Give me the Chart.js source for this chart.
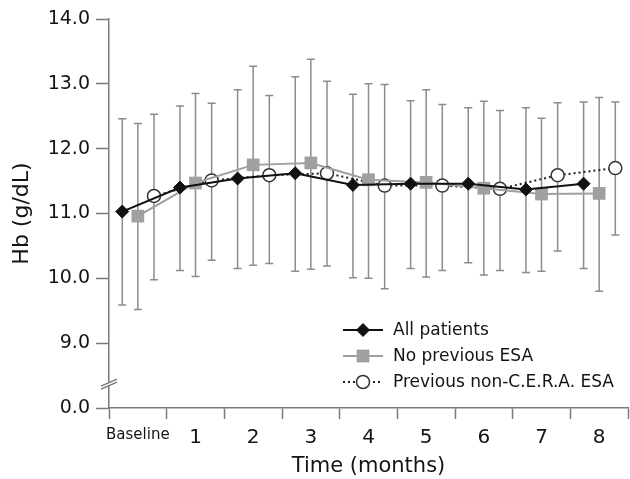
<!DOCTYPE html>
<html>
<head>
<meta charset="utf-8">
<title>Hb over time</title>
<script src="https://cdn.jsdelivr.net/npm/chart.js@4/dist/chart.umd.min.js"></script>
<style>
    html, body { margin: 0; padding: 0; background: #fff; }
    #wrap { width: 630px; height: 479px; }
</style>
</head>
<body>
<div id="wrap"><canvas id="hbChart"></canvas></div>
<script>
// Time points on the x axis
const categories = ["Baseline", "1", "2", "3", "4", "5", "6", "7", "8"];

// y ticks; the bottom one (8) stands in for 0.0 below the axis break
const yTickValues = [8, 9, 10, 11, 12, 13, 14];
const yTickLabels = ["0.0", "9.0", "10.0", "11.0", "12.0", "13.0", "14.0"];

// All patients (mean, upper and lower end of bar)
const allMean  = [11.03, 11.40, 11.54, 11.62, 11.44, 11.46, 11.46, 11.37, 11.46];
const allUpper = [12.46, 12.66, 12.91, 13.11, 12.84, 12.74, 12.63, 12.63, 12.72];
const allLower = [9.59, 10.12, 10.15, 10.11, 10.01, 10.15, 10.24, 10.09, 10.15];

// No previous ESA
const noEsaMean  = [10.96, 11.47, 11.75, 11.78, 11.52, 11.48, 11.39, 11.30, 11.31];
const noEsaUpper = [12.39, 12.85, 13.27, 13.38, 13.00, 12.91, 12.73, 12.47, 12.79];
const noEsaLower = [9.52, 10.03, 10.20, 10.14, 10.00, 10.02, 10.05, 10.11, 9.80];

// Previous non-C.E.R.A. ESA
const prevMean  = [11.27, 11.51, 11.59, 11.62, 11.43, 11.43, 11.38, 11.59, 11.70];
const prevUpper = [12.53, 12.70, 12.82, 13.04, 12.99, 12.68, 12.59, 12.71, 12.72];
const prevLower = [9.98, 10.28, 10.23, 10.19, 9.84, 10.12, 10.12, 10.42, 10.67];

const FONT = "'DejaVu Sans', 'Liberation Sans', sans-serif";
const TEXT = "#141414";
const AXIS = "#7a7a7a";
const BAR = "#8c8c8c";

function toPoints(values, shift) {
    return values.map((v, i) => ({ x: i + shift, y: v }));
}

const series = [
    {
        label: "All patients",
        data: toPoints(allMean, -0.27),
        upper: allUpper, lower: allLower, shift: -0.27,
        borderColor: "#111", backgroundColor: "#111",
        borderWidth: 2, borderDash: [],
        pointStyle: "rectRot", pointRadius: 6.5,
        pointBackgroundColor: "#111", pointBorderColor: "#111", pointBorderWidth: 1
    },
    {
        label: "No previous ESA",
        data: toPoints(noEsaMean, 0),
        upper: noEsaUpper, lower: noEsaLower, shift: 0,
        borderColor: "#a0a0a0", backgroundColor: "#a0a0a0",
        borderWidth: 2, borderDash: [],
        pointStyle: "rect", pointRadius: 9,
        pointBackgroundColor: "#a0a0a0", pointBorderColor: "#a0a0a0", pointBorderWidth: 0
    },
    {
        label: "Previous non-C.E.R.A. ESA",
        data: toPoints(prevMean, 0.28),
        upper: prevUpper, lower: prevLower, shift: 0.28,
        borderColor: "#222", backgroundColor: "#fff",
        borderWidth: 2, borderDash: [2, 3],
        pointStyle: "circle", pointRadius: 6.5,
        pointBackgroundColor: "#fff", pointBorderColor: "#333", pointBorderWidth: 1.5
    }
];

// error bars go under the lines and markers
const errorBars = {
    id: "errorBars",
    beforeDatasetsDraw(chart) {
        const ctx = chart.ctx;
        const xs = chart.scales.x, ys = chart.scales.y;
        ctx.save();
        ctx.strokeStyle = BAR;
        ctx.lineWidth = 1.5;
        series.forEach(s => {
            s.upper.forEach((hi, i) => {
                const px = xs.getPixelForValue(i + s.shift);
                const top = ys.getPixelForValue(hi);
                const bot = ys.getPixelForValue(s.lower[i]);
                ctx.beginPath();
                ctx.moveTo(px, top);
                ctx.lineTo(px, bot);
                ctx.moveTo(px - 4, top);
                ctx.lineTo(px + 4, top);
                ctx.moveTo(px - 4, bot);
                ctx.lineTo(px + 4, bot);
                ctx.stroke();
            });
        });
        ctx.restore();
    }
};

// the // mark on the y axis between 0.0 and 9.0
const axisBreak = {
    id: "axisBreak",
    afterDraw(chart) {
        const ctx = chart.ctx;
        const x = chart.scales.x.getPixelForValue(-0.5);
        const y = chart.scales.y.getPixelForValue(8.36);
        ctx.save();
        ctx.fillStyle = "#fff";
        ctx.beginPath();
        ctx.moveTo(x - 8, y + 4.5);
        ctx.lineTo(x + 8, y - 2.5);
        ctx.lineTo(x + 8, y - 5.5);
        ctx.lineTo(x - 8, y + 1.5);
        ctx.closePath();
        ctx.fill();
        ctx.strokeStyle = AXIS;
        ctx.lineWidth = 1.5;
        ctx.beginPath();
        ctx.moveTo(x - 8, y + 4.5);
        ctx.lineTo(x + 8, y - 2.5);
        ctx.moveTo(x - 8, y + 1.5);
        ctx.lineTo(x + 8, y - 5.5);
        ctx.stroke();
        ctx.restore();
    }
};

// legend box inside the plot, lower right: line sample with marker, then text
const insideLegend = {
    id: "insideLegend",
    afterDraw(chart) {
        const ctx = chart.ctx;
        const area = chart.chartArea;
        const x0 = area.right - 285;
        ctx.save();
        chart.data.datasets.forEach((ds, i) => {
            const y = area.bottom - 78 + i * 26;
            ctx.strokeStyle = ds.borderColor;
            ctx.lineWidth = ds.borderWidth;
            ctx.setLineDash(ds.borderDash);
            ctx.beginPath();
            ctx.moveTo(x0, y);
            ctx.lineTo(x0 + 40, y);
            ctx.stroke();
            ctx.setLineDash([]);
            ctx.fillStyle = ds.pointBackgroundColor;
            ctx.strokeStyle = ds.pointBorderColor;
            ctx.lineWidth = ds.pointBorderWidth;
            Chart.helpers.drawPoint(ctx, {
                pointStyle: ds.pointStyle,
                radius: ds.pointRadius,
                rotation: 0,
                borderWidth: ds.pointBorderWidth
            }, x0 + 20, y);
            ctx.fillStyle = TEXT;
            ctx.font = "17px " + FONT;
            ctx.textBaseline = "middle";
            ctx.textAlign = "left";
            ctx.fillText(ds.label, x0 + 50, y + 1);
        });
        ctx.restore();
    }
};

const ctx = document.getElementById("hbChart").getContext("2d");
new Chart(ctx, {
    type: "line",
    data: { datasets: series },
    plugins: [errorBars, axisBreak, insideLegend],
    options: {
        responsive: true,
        maintainAspectRatio: false,
        animation: false,
        events: [],
        layout: {
            autoPadding: false,
            padding: { top: 19, right: 2, left: 0, bottom: 0 }
        },
        plugins: {
            legend: { display: false },
            tooltip: { enabled: false }
        },
        scales: {
            x: {
                type: "linear",
                min: -0.5,
                max: 8.5,
                afterFit(scale) {
                    scale.height = 71;
                    scale.paddingLeft = 0;
                    scale.paddingRight = 0;
                },
                border: { color: AXIS, width: 1.5 },
                grid: {
                    drawOnChartArea: false,
                    drawTicks: true,
                    tickLength: 11,
                    tickWidth: 1.5,
                    tickColor: c => (c.tick && Number.isInteger(c.tick.value)) ? "rgba(0,0,0,0)" : AXIS
                },
                ticks: {
                    stepSize: 0.5,
                    autoSkip: false,
                    maxRotation: 0,
                    padding: 7,
                    color: TEXT,
                    font: c => ({ family: FONT, size: (c.tick && c.tick.value === 0) ? 15 : 20 }),
                    callback: v => Number.isInteger(v) ? categories[v] : ""
                },
                title: {
                    display: true,
                    text: "Time (months)",
                    color: TEXT,
                    font: { family: FONT, size: 21 },
                    padding: { top: 0, bottom: 0 }
                }
            },
            y: {
                type: "linear",
                min: 8,
                max: 14,
                afterFit(scale) { scale.width = 109; },
                afterBuildTicks(scale) { scale.ticks = yTickValues.map(v => ({ value: v })); },
                border: { color: AXIS, width: 1.5 },
                grid: {
                    drawOnChartArea: false,
                    drawTicks: true,
                    tickLength: 13,
                    tickWidth: 1.5,
                    tickColor: AXIS
                },
                ticks: {
                    padding: 6,
                    color: TEXT,
                    font: { family: FONT, size: 19 },
                    callback: v => yTickLabels[yTickValues.indexOf(v)]
                },
                title: {
                    display: true,
                    text: "Hb (g/dL)",
                    color: TEXT,
                    font: { family: FONT, size: 22 },
                    padding: { top: 9, bottom: 0 }
                }
            }
        }
    }
});
</script>
</body>
</html>
